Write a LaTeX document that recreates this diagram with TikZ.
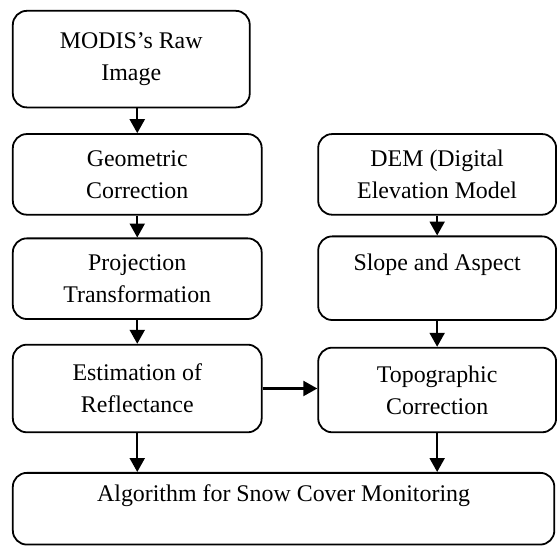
\documentclass[tikz,border=0pt]{standalone}
\usepackage{fontspec}
\setmainfont{Liberation Serif}
\usetikzlibrary{arrows.meta,positioning}

\begin{document}
\begin{tikzpicture}[
                    ->,
                    >={Triangle[length=14pt,width=15pt]},
                    line width=2.2pt,
                    node distance=25pt
                ]
                \tikzstyle{box}=[draw=black,line width=1.8pt,rounded corners=14pt,align=center,inner sep=0pt,font=\fontsize{24}{32}\selectfont]

                \node[box,minimum width=238pt,minimum height=97pt] (A) {MODIS’s Raw\\Image};
                \node[box,minimum width=250pt,minimum height=81pt] (B) [below=25pt of A.south west,anchor=north west] {Geometric\\Correction};
                \node[box,minimum width=250pt,minimum height=81pt] (C) [below=22pt of B] {Projection\\Transformation};
                \node[box,minimum width=250pt,minimum height=88pt] (D) [below=24pt of C] {Estimation of\\Reflectance};
                \node[box,minimum width=239pt,minimum height=81pt] (E) [right=55pt of B] {DEM (Digital\\Elevation Model};
                \node[box,minimum width=239pt,minimum height=84pt] (F) [below=20pt of E] {Slope and Aspect\\~};
                \node[box,minimum width=239pt,minimum height=85pt] (G) [below=26pt of F] {Topographic\\Correction};
                \node[box,minimum width=544pt,minimum height=72pt] (H) [below=39pt of D.south west,anchor=north west] {Algorithm for Snow Cover Monitoring\\~};

                \useasboundingbox ([shift={(-12pt,10pt)}]A.north west) rectangle ++(557pt,-540pt);

                \draw (A.south -| B.north) -- (B.north);
                \draw (B) -- (C);
                \draw (C) -- (D);
                \draw (E) -- (F);
                \draw (F) -- (G);
                \draw (D.east) -- (D.east -| G.west);
                \draw (D) -- (D.south |- H.north);
                \draw (G) -- (G.south |- H.north);

            \end{tikzpicture}
\end{document}
